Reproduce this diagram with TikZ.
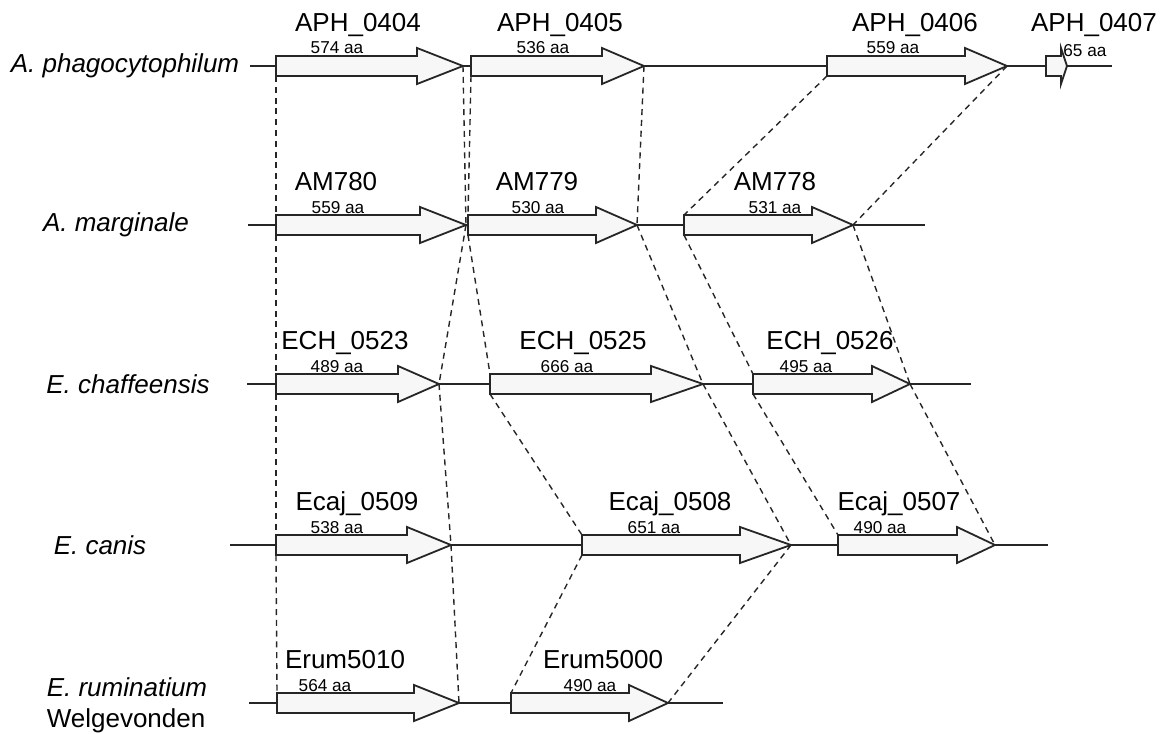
\documentclass[tikz,border=0pt]{standalone}
\usepackage{fontspec}
\setmainfont{Liberation Sans}

% gene arrow: id, start, head start, tip, row
\newcommand{\gene}[5]{%
	\draw[genebox] (#2,#5-10) -- (#3,#5-10) -- (#3,#5-18) -- (#4,#5) -- (#3,#5+18) -- (#3,#5+10) -- (#2,#5+10) -- cycle;
	\coordinate (#1-top) at (#2,#5-10);
	\coordinate (#1-bot) at (#2,#5+10);
	\coordinate (#1-tip) at (#4,#5);
}

\begin{document}
\begin{tikzpicture}[x=0.5pt, y=-0.5pt,
	chrom/.style={draw=black!85, line width=0.9pt},
	genebox/.style={draw=black!85, line width=0.9pt, fill=gray!6},
	link/.style={draw=black!85, line width=0.7pt, dash pattern=on 3pt off 2.4pt},
	genename/.style={font=\fontsize{13}{15}\selectfont, inner sep=0pt, anchor=base},
	aalen/.style={font=\fontsize{8.6}{10}\selectfont, inner sep=0pt, anchor=base},
	species/.style={font=\fontsize{13}{15.5}\selectfont, inner sep=0pt, align=left}]
	\useasboundingbox (0,0) rectangle (1168,734);

	% chromosome lines
	\coordinate (r1w) at (250,66);  \coordinate (r1e) at (1112,66);
	\coordinate (r2w) at (248,225); \coordinate (r2e) at (925,225);
	\coordinate (r3w) at (247,384); \coordinate (r3e) at (971,384);
	\coordinate (r4w) at (230,545); \coordinate (r4e) at (1048,545);
	\coordinate (r5w) at (249,703); \coordinate (r5e) at (723,703);
	\foreach \r in {1,...,5} \draw[chrom] (r\r w) -- (r\r e);

	\node[species] (sp1) at (125,66) {\itshape A. phagocytophilum};
	\node[species] (sp2) at (116,225) {\itshape A. marginale};
	\node[species] (sp3) at (128,384) {\itshape E. chaffeensis};
	\node[species] (sp4) at (100,545) {\itshape E. canis};
	\node[species] (sp5) at (127,705) {{\itshape E. ruminatium}\\Welgevonden};

	% genes
	\gene{aph0404}{276}{417}{463}{66}
	\gene{aph0405}{471}{602}{644}{66}
	\gene{aph0406}{827}{965}{1007}{66}
	\gene{aph0407}{1046}{1061}{1067}{66}
	\gene{am780}{276}{420}{466}{225}
	\gene{am779}{468}{596}{637}{225}
	\gene{am778}{684}{812}{853}{225}
	\gene{ech0523}{276}{398}{439}{384}
	\gene{ech0525}{490}{651}{703}{384}
	\gene{ech0526}{753}{872}{910}{384}
	\gene{ecaj0509}{276}{407}{451}{545}
	\gene{ecaj0508}{582}{740}{791}{545}
	\gene{ecaj0507}{838}{957}{995}{545}
	\gene{erum5010}{277}{414}{459}{703}
	\gene{erum5000}{511}{629}{668}{703}

	\node[genename] (n-aph0404) at (358,31) {APH\_0404};
	\node[genename] (n-aph0405) at (560,31) {APH\_0405};
	\node[genename] (n-aph0406) at (915,31) {APH\_0406};
	\node[genename] (n-aph0407) at (1094,31) {APH\_0407};
	\node[genename] (n-am780) at (336,190) {AM780};
	\node[genename] (n-am779) at (537,190) {AM779};
	\node[genename] (n-am778) at (775,190) {AM778};
	\node[genename] (n-ech0523) at (345,349) {ECH\_0523};
	\node[genename] (n-ech0525) at (583,349) {ECH\_0525};
	\node[genename] (n-ech0526) at (830,349) {ECH\_0526};
	\node[genename] (n-ecaj0509) at (357,510) {Ecaj\_0509};
	\node[genename] (n-ecaj0508) at (670,510) {Ecaj\_0508};
	\node[genename] (n-ecaj0507) at (899,510) {Ecaj\_0507};
	\node[genename] (n-erum5010) at (345,668) {Erum5010};
	\node[genename] (n-erum5000) at (603,668) {Erum5000};

	\node[aalen] (l-aph0404) at (337,53) {574 aa};
	\node[aalen] (l-aph0405) at (543,53) {536 aa};
	\node[aalen] (l-aph0406) at (893,53) {559 aa};
	\node[aalen, anchor=base west] (l-aph0407) at (1063,56) {65 aa};
	\node[aalen] (l-am780) at (338,213) {559 aa};
	\node[aalen] (l-am779) at (538,213) {530 aa};
	\node[aalen] (l-am778) at (775,213) {531 aa};
	\node[aalen] (l-ech0523) at (337,372) {489 aa};
	\node[aalen] (l-ech0525) at (567,372) {666 aa};
	\node[aalen] (l-ech0526) at (806,372) {495 aa};
	\node[aalen] (l-ecaj0509) at (337,533) {538 aa};
	\node[aalen] (l-ecaj0508) at (654,533) {651 aa};
	\node[aalen] (l-ecaj0507) at (880,533) {490 aa};
	\node[aalen] (l-erum5010) at (325,691) {564 aa};
	\node[aalen] (l-erum5000) at (590,691) {490 aa};

	% orthologue links
	\foreach \a/\b in {aph0404-bot/am780-top, aph0404-tip/am780-tip, aph0405-bot/am779-top, aph0405-tip/am779-tip,
		aph0406-bot/am778-top, aph0406-tip/am778-tip,
		am780-bot/ech0523-top, am780-tip/ech0523-tip, am779-bot/ech0525-top, am779-tip/ech0525-tip,
		am778-bot/ech0526-top, am778-tip/ech0526-tip,
		ech0523-bot/ecaj0509-top, ech0523-tip/ecaj0509-tip, ech0525-bot/ecaj0508-top, ech0525-tip/ecaj0508-tip,
		ech0526-bot/ecaj0507-top, ech0526-tip/ecaj0507-tip,
		ecaj0509-bot/erum5010-top, ecaj0509-tip/erum5010-tip, ecaj0508-bot/erum5000-top, ecaj0508-tip/erum5000-tip}
		\draw[link] (\a) -- (\b);
\end{tikzpicture}
\end{document}
